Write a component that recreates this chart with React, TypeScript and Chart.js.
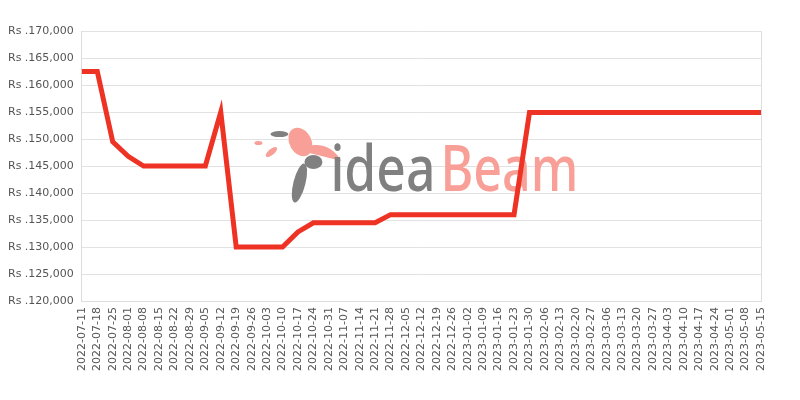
import React, { useEffect, useRef } from "react";
import { Chart, registerables } from "chart.js";

Chart.register(...registerables);

const dates: string[] = [
  "2022-07-11", "2022-07-18", "2022-07-25", "2022-08-01", "2022-08-08", "2022-08-15",
  "2022-08-22", "2022-08-29", "2022-09-05", "2022-09-12", "2022-09-19", "2022-09-26",
  "2022-10-03", "2022-10-10", "2022-10-17", "2022-10-24", "2022-10-31", "2022-11-07",
  "2022-11-14", "2022-11-21", "2022-11-28", "2022-12-05", "2022-12-12", "2022-12-19",
  "2022-12-26", "2023-01-02", "2023-01-09", "2023-01-16", "2023-01-23", "2023-01-30",
  "2023-02-06", "2023-02-13", "2023-02-20", "2023-02-27", "2023-03-06", "2023-03-13",
  "2023-03-20", "2023-03-27", "2023-04-03", "2023-04-10", "2023-04-17", "2023-04-24",
  "2023-05-01", "2023-05-08", "2023-05-15",
];

const prices: number[] = [
  162500, 162500, 149500, 146800, 145000, 145000,
  145000, 145000, 145000, 155000, 130000, 130000,
  130000, 130000, 132800, 134500, 134500, 134500,
  134500, 134500, 136000, 136000, 136000, 136000,
  136000, 136000, 136000, 136000, 136000, 154900,
  154900, 154900, 154900, 154900, 154900, 154900,
  154900, 154900, 154900, 154900, 154900, 154900,
  154900, 154900, 154900,
];

const yMin = 120000;
const yMax = 170000;
const yStep = 5000;
const currencyPrefix = "Rs .";
const watermarkLeft = "idea";
const watermarkRight = "Beam";

const FONT = "'DejaVu Sans', sans-serif";

const watermarkPlugin = {
  id: "watermark",
  beforeDatasetsDraw(chart: any) {
    const { ctx, chartArea } = chart;
    const cx = (chartArea.left + chartArea.right) / 2;
    const cy = (chartArea.top + chartArea.bottom) / 2;
    ctx.save();
    // bird / feather shapes (approximation)
    ctx.fillStyle = "#808080";
    ctx.beginPath();
    ctx.ellipse(cx - 122, cy + 17, 6, 20, 0.25, 0, Math.PI * 2);
    ctx.fill();
    ctx.beginPath();
    ctx.ellipse(cx - 142, cy - 32, 9, 3, 0, 0, Math.PI * 2);
    ctx.fill();
    ctx.beginPath();
    ctx.ellipse(cx - 108, cy - 4, 9, 7, 0, 0, Math.PI * 2);
    ctx.fill();
    ctx.fillStyle = "#f8a097";
    ctx.beginPath();
    ctx.ellipse(cx - 121, cy - 24, 11, 15, -0.5, 0, Math.PI * 2);
    ctx.fill();
    ctx.beginPath();
    ctx.ellipse(cx - 150, cy - 14, 7, 3, -0.7, 0, Math.PI * 2);
    ctx.fill();
    ctx.beginPath();
    ctx.ellipse(cx - 163, cy - 23, 4, 2, 0, 0, Math.PI * 2);
    ctx.fill();
    ctx.beginPath();
    ctx.moveTo(cx - 125, cy - 16);
    ctx.quadraticCurveTo(cx - 95, cy - 30, cx - 80, cy - 5);
    ctx.lineTo(cx - 108, cy - 12);
    ctx.closePath();
    ctx.fill();

    // text
    ctx.font = "500 64px 'Noto Sans', sans-serif";
    ctx.textBaseline = "alphabetic";
    const leftW = ctx.measureText(watermarkLeft).width;
    const rightW = ctx.measureText(watermarkRight).width;
    const baseY = cy + 25;
    ctx.save();
    ctx.translate(cx - 91, baseY);
    ctx.scale(105 / leftW, 1);
    ctx.fillStyle = "#808080";
    ctx.fillText(watermarkLeft, 0, 0);
    ctx.restore();
    ctx.save();
    ctx.translate(cx + 19, baseY);
    ctx.scale(138 / rightW, 1);
    ctx.fillStyle = "#f8a097";
    ctx.fillText(watermarkRight, 0, 0);
    ctx.restore();
    ctx.restore();
  },
};

export default function App() {
  const canvasRef = useRef<HTMLCanvasElement | null>(null);

  useEffect(() => {
    if (!canvasRef.current) return;
    const lastIdx = dates.length - 1;
    const chart = new Chart(canvasRef.current, {
      type: "line",
      data: {
        labels: dates,
        datasets: [
          {
            data: prices,
            borderColor: "#ee3224",
            backgroundColor: "#ee3224",
            borderWidth: 5,
            pointRadius: 0,
            tension: 0,
            fill: false,
          },
        ],
      },
      options: {
        animation: false,
        responsive: true,
        maintainAspectRatio: false,
        layout: { padding: { top: 31, right: 39, left: 0, bottom: 23 } },
        plugins: { legend: { display: false }, tooltip: { enabled: false } },
        scales: {
          x: {
            grid: {
              color: (c: any) => (c.index === lastIdx ? "#dddddd" : "rgba(0,0,0,0)"),
              drawTicks: false,
            },
            border: { display: true, color: "#dddddd" },
            ticks: {
              autoSkip: false,
              maxRotation: 90,
              minRotation: 90,
              padding: 6,
              color: "#555",
              font: { family: FONT, size: 11 },
            },
          },
          y: {
            min: yMin,
            max: yMax,
            grid: { color: "#e2e2e2", drawTicks: false },
            border: { display: true, color: "#dddddd" },
            ticks: {
              stepSize: yStep,
              padding: 8,
              color: "#555",
              font: { family: FONT, size: 11 },
              callback: (v: any) => currencyPrefix + Number(v).toLocaleString("en-US"),
            },
          },
        },
      },
      plugins: [watermarkPlugin],
    });
    return () => chart.destroy();
  }, []);

  return (
    <div style={{ position: "absolute", left: 0, top: 0, width: 800, height: 400 }}>
      <canvas ref={canvasRef} />
    </div>
  );
}
